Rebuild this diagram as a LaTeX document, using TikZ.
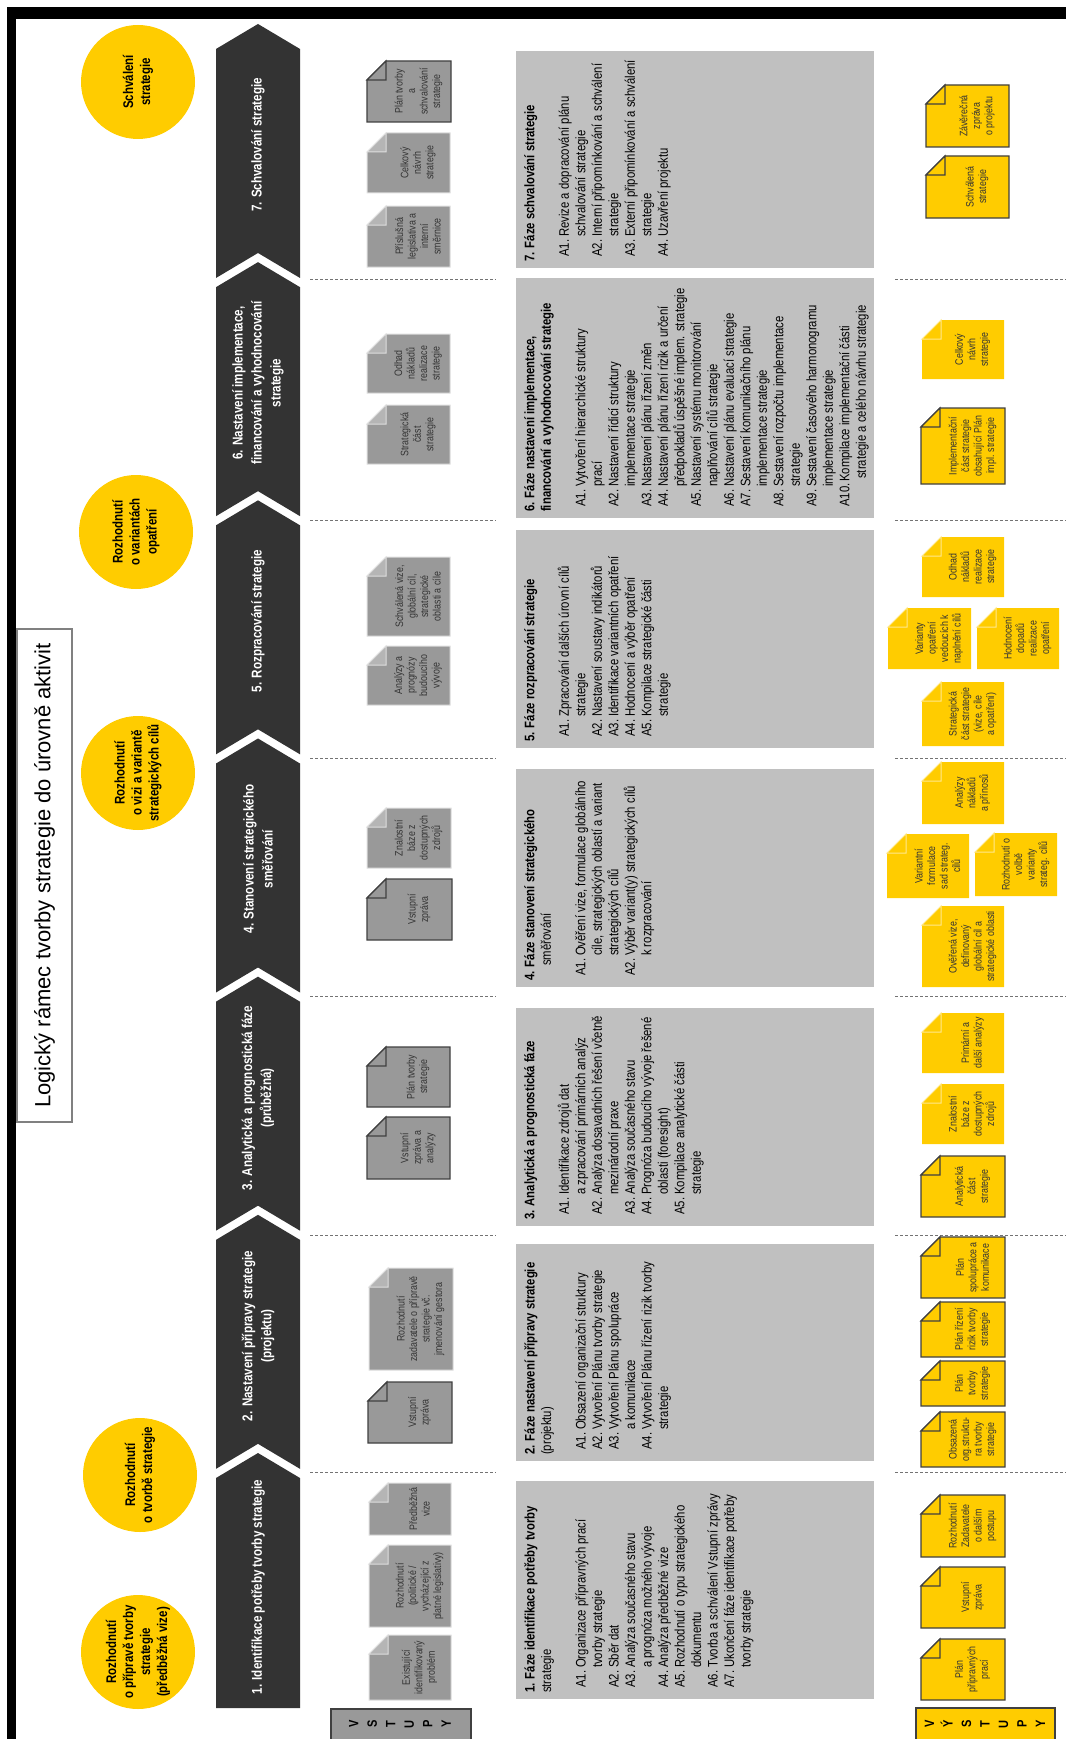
\documentclass[tikz,border=0pt]{standalone}
\usepackage{fontspec}
\setmainfont{Liberation Sans}[FakeStretch=0.82]
\newfontfamily\titlefont{Liberation Sans}
\usepackage{xcolor}
\usepackage{tikz}

\definecolor{chevgray}{HTML}{333333}
\definecolor{ryellow}{HTML}{FFCC00}
\definecolor{boxgray}{HTML}{C0C0C0}
\definecolor{docgray}{HTML}{999999}
\definecolor{foldgray}{HTML}{B5B5B5}
\definecolor{docedge}{HTML}{DEDEDE}
\definecolor{darkedge}{HTML}{404040}
\definecolor{doctextcol}{HTML}{333333}

% activity line with hanging indent
\newcommand{\akt}[2][20pt]{\hspace*{5pt}\makebox[#1][l]{#2}}
\newcommand{\dal}[1][25pt]{\hspace*{#1}}
% document with folded corner: style, name, left, top, right, bottom, text
\newcommand{\dokument}[7]{%
  \path[#1] (#3,#6) -- (#3,#4+19) -- (#3+19,#4) -- (#5,#4) -- (#5,#6) -- cycle;
  \path[#1 fold] (#3,#4+19) -- (#3+19,#4+19) -- (#3+19,#4) -- cycle;
  \node[doctext] (#2) at ({(#3+19+#5)/2},{(#4+#6)/2}) {#7};}

\begin{document}
\begin{tikzpicture}[
  x=1pt, y=-1pt,
  chevron/.style={fill=chevgray},
  phaselabel/.style={rotate=90, text=white, align=center, inner sep=0,
    font=\fontsize{14.2}{19}\selectfont\bfseries},
  decision/.style={circle, fill=ryellow, minimum size=114pt, inner sep=0,
    rotate=90, align=center, font=\fontsize{14}{17}\selectfont\bfseries},
  titlebox/.style={draw=black!50, line width=1.2pt, fill=white, rotate=90,
    inner sep=0, font=\titlefont\fontsize{22}{26}\selectfont},
  phasebox/.style={fill=boxgray, inner sep=0},
  phasetext/.style={rotate=90, anchor=north west, align=left, inner sep=0,
    font=\fontsize{13.8}{16.5}\selectfont},
  docin/.style={fill=docgray, draw=docedge, line width=1pt},
  docin fold/.style={fill=foldgray, draw=docedge, line width=1pt},
  docinb/.style={fill=docgray, draw=darkedge, line width=1.2pt},
  docinb fold/.style={fill=docgray, draw=darkedge, line width=1.2pt},
  docout/.style={fill=ryellow},
  docout fold/.style={fill=ryellow, draw=white!55!ryellow, line width=1pt},
  docoutb/.style={fill=ryellow, draw=darkedge, line width=1.2pt},
  docoutb fold/.style={fill=ryellow, draw=darkedge, line width=1.2pt},
  doctext/.style={rotate=90, align=center, inner sep=0, text=doctextcol,
    font=\fontsize{10.8}{12.5}\selectfont},
  sepline/.style={draw=black!55, dash pattern=on 3pt off 2pt, line width=0.9pt},
  listbox/.style={draw=darkedge, line width=1.2pt, inner sep=0},
  listtext/.style={rotate=90, align=center, inner sep=0,
    font=\fontsize{13.5}{18.5}\selectfont\bfseries}
]
\useasboundingbox (0,0) rectangle (1066,1739);

% frame
\fill[black] (7,7) rectangle (1066,19);
\fill[black] (7,7) rectangle (16,1739);

% title
\node[titlebox, minimum width=493pt, minimum height=55pt] (title) at (44.5,875.5)
  {Logický rámec tvorby strategie do úrovně aktivit};

% decisions
\node[decision] (dec7) at (138,82) {Schválení\\strategie};
\node[decision] (dec6) at (136,532) {Rozhodnutí\\o variantách\\opatření};
\node[decision] (dec4) at (138,773) {Rozhodnutí\\o vizi a variantě\\strategických cílů};
\node[decision] (dec2) at (140,1475) {Rozhodnutí\\o tvorbě strategie};
\node[decision] (dec1) at (138,1652) {Rozhodnutí\\o přípravě tvorby\\strategie\\(předběžná vize)};

% phase chevrons
\fill[chevron] (216,1478) -- (258,1453) -- (300,1478) -- (300,1708) -- (216,1708) -- cycle;
\foreach \k in {2,...,7}{
  \pgfmathsetmacro{\yt}{1478-(\k-1)*238.17}
  \fill[chevron] (216,\yt) -- (258,\yt-25) -- (300,\yt) -- (300,\yt+229)
    -- (258,\yt+204) -- (216,\yt+229) -- cycle;
}
\node[phaselabel] (ph1) at (258,1587) {1. Identifikace potřeby tvorby strategie};
\node[phaselabel] (ph2) at (258,1336) {2. Nastavení přípravy strategie\\(projektu)};
\node[phaselabel] (ph3) at (258,1098) {3. Analytická a prognostická fáze\\(průběžná)};
\node[phaselabel] (ph4) at (258,859) {4. Stanovení strategického\\směřování};
\node[phaselabel] (ph5) at (258,621) {5. Rozpracování strategie};
\node[phaselabel] (ph6) at (258,383) {6. Nastavení implementace,\\financování a vyhodnocování\\strategie};
\node[phaselabel] (ph7) at (258,145) {7. Schvalování strategie};

% separators
\foreach \y in {279,520,758,996,1235,1472}{
  \draw[sepline] (310,\y) -- (496,\y);
  \draw[sepline] (895,\y) -- (1066,\y);
}

% activity boxes
\node[phasebox, minimum width=358pt, minimum height=217pt] (box7) at (695,159.5) {};
\node[phasebox, minimum width=358pt, minimum height=240pt] (box6) at (695,398) {};
\node[phasebox, minimum width=358pt, minimum height=218pt] (box5) at (695,639) {};
\node[phasebox, minimum width=358pt, minimum height=218pt] (box4) at (695,878) {};
\node[phasebox, minimum width=358pt, minimum height=218pt] (box3) at (695,1117) {};
\node[phasebox, minimum width=358pt, minimum height=217pt] (box2) at (695,1352.5) {};
\node[phasebox, minimum width=358pt, minimum height=218pt] (box1) at (695,1590) {};

\node[phasetext] (txt7) at (524,262) {%
  \textbf{7. Fáze schvalování strategie}\\[18pt]
  \akt{A1.}Revize a dopracování plánu\\
  \dal schvalování strategie\\
  \akt{A2.}Interní připomínkování a schválení\\
  \dal strategie\\
  \akt{A3.}Externí připomínkování a schválení\\
  \dal strategie\\
  \akt{A4.}Uzavření projektu};
\node[phasetext] (txt6) at (524,512) {%
  \textbf{6. Fáze nastavení implementace,}\\
  \textbf{financování a vyhodnocování strategie}\\[18pt]
  \akt{A1.}Vytvoření hierarchické struktury\\
  \dal prací\\
  \akt{A2.}Nastavení řídicí struktury\\
  \dal implementace strategie\\
  \akt{A3.}Nastavení plánu řízení změn\\
  \akt{A4.}Nastavení plánu řízení rizik a určení\\
  \dal předpokladů úspěšné implem. strategie\\
  \akt{A5.}Nastavení systému monitorování\\
  \dal naplňování cílů strategie\\
  \akt{A6.}Nastavení plánu evaluací strategie\\
  \akt{A7.}Sestavení komunikačního plánu\\
  \dal implementace strategie\\
  \akt{A8.}Sestavení rozpočtu implementace\\
  \dal strategie\\
  \akt{A9.}Sestavení časového harmonogramu\\
  \dal implementace strategie\\
  \akt[25pt]{A10.}Kompilace implementační části\\
  \dal[30pt] strategie a celého návrhu strategie};
\node[phasetext] (txt5) at (524,742) {%
  \textbf{5. Fáze rozpracování strategie}\\[18pt]
  \akt{A1.}Zpracování dalších úrovní cílů\\
  \dal strategie\\
  \akt{A2.}Nastavení soustavy indikátorů\\
  \akt{A3.}Identifikace variantních opatření\\
  \akt{A4.}Hodnocení a výběr opatření\\
  \akt{A5.}Kompilace strategické části\\
  \dal strategie};
\node[phasetext] (txt4) at (524,981) {%
  \textbf{4. Fáze stanovení strategického}\\
  \hspace*{15pt}směřování\\[18pt]
  \akt{A1.}Ověření vize, formulace globálního\\
  \dal cíle, strategických oblastí a variant\\
  \dal strategických cílů\\
  \akt{A2.}Výběr variant(y) strategických cílů\\
  \dal k rozpracování};
\node[phasetext] (txt3) at (524,1220) {%
  \textbf{3. Analytická a prognostická fáze}\\[18pt]
  \akt{A1.}Identifikace zdrojů dat\\
  \dal a zpracování primárních analýz\\
  \akt{A2.}Analýza dosavadních řešení včetně\\
  \dal mezinárodní praxe\\
  \akt{A3.}Analýza současného stavu\\
  \akt{A4.}Prognóza budoucího vývoje řešené\\
  \dal oblasti (foresight)\\
  \akt{A5.}Kompilace analytické části\\
  \dal strategie};
\node[phasetext] (txt2) at (524,1455) {%
  \textbf{2. Fáze nastavení přípravy strategie}\\
  (projektu)\\[18pt]
  \akt{A1.}Obsazení organizační struktury\\
  \akt{A2.}Vytvoření Plánu tvorby strategie\\
  \akt{A3.}Vytvoření Plánu spolupráce\\
  \dal a komunikace\\
  \akt{A4.}Vytvoření Plánu řízení rizik tvorby\\
  \dal strategie};
\node[phasetext] (txt1) at (524,1693) {%
  \textbf{1. Fáze identifikace potřeby tvorby}\\
  strategie\\[18pt]
  \akt{A1.}Organizace přípravných prací\\
  \dal tvorby strategie\\
  \akt{A2.}Sběr dat\\
  \akt{A3.}Analýza současného stavu\\
  \dal a prognóza možného vývoje\\
  \akt{A4.}Analýza předběžné vize\\
  \akt{A5.}Rozhodnutí o typu strategického\\
  \dal dokumentu\\
  \akt{A6.}Tvorba a schválení Vstupní zprávy\\
  \akt{A7.}Ukončení fáze identifikace potřeby\\
  \dal tvorby strategie};

% inputs
\dokument{docinb}{in7a}{367}{61}{451}{122}{Plán tvorby\\a\\schvalování\\strategie}
\dokument{docin}{in7b}{367}{133}{450}{193}{Celkový\\návrh\\strategie}
\dokument{docin}{in7c}{367}{206}{450}{267}{Příslušná\\legislativa a\\interní\\směrnice}
\dokument{docin}{in6a}{367}{334}{450}{393}{Odhad\\nákladů\\realizace\\strategie}
\dokument{docin}{in6b}{367}{405}{450}{464}{Strategická\\část\\strategie}
\dokument{docin}{in5a}{367}{557}{450}{636}{Schválená vize,\\globální cíl,\\strategické\\oblasti a cíle}
\dokument{docin}{in5b}{367}{646}{450}{705}{Analýzy a\\prognózy\\budoucího\\vývoje}
\dokument{docin}{in4a}{367}{808}{451}{868}{Znalostní\\báze z\\dostupných\\zdrojů}
\dokument{docinb}{in4b}{367}{879}{452}{940}{Vstupní\\zpráva}
\dokument{docinb}{in3a}{367}{1047}{450}{1107}{Plán tvorby\\strategie}
\dokument{docinb}{in3b}{367}{1117}{450}{1179}{Vstupní\\zpráva a\\analýzy}
\dokument{docin}{in2a}{369}{1268}{453}{1370}{Rozhodnutí\\zadavatele o přípravě\\strategie vč.\\jmenování gestora}
\dokument{docinb}{in2b}{368}{1382}{452}{1443}{Vstupní\\zpráva}
\dokument{docin}{in1a}{369}{1483}{451}{1535}{Předběžná\\vize}
\dokument{docin}{in1b}{369}{1545}{451}{1627}{Rozhodnutí\\(politické /\\vycházející z\\platné legislativy)}
\dokument{docin}{in1c}{369}{1635}{451}{1700}{Existující\\identifikovaný\\problém}

% outputs
\dokument{docoutb}{out7a}{926}{85}{1009}{147}{Závěrečná\\zpráva\\o projektu}
\dokument{docoutb}{out7b}{926}{156}{1009}{218}{Schválená\\strategie}
\dokument{docout}{out6a}{922}{320}{1004}{379}{Celkový\\návrh\\strategie}
\dokument{docoutb}{out6b}{921}{408}{1005}{484}{Implementační\\část strategie\\obsahující Plán\\impl. strategie}
\dokument{docout}{out5a}{922}{537}{1004}{597}{Odhad\\nákladů\\realizace\\strategie}
\dokument{docout}{out5b}{888}{608}{971}{669}{Varianty\\opatření\\vedoucích k\\naplnění cílů}
\dokument{docout}{out5c}{977}{608}{1059}{669}{Hodnocení\\dopadů\\realizace\\opatření}
\dokument{docout}{out5d}{922}{682}{1004}{746}{Strategická\\část strategie\\(vize, cíle\\a opatření)}
\dokument{docout}{out4a}{922}{762}{1004}{824}{Analýzy\\nákladů\\a přínosů}
\dokument{docout}{out4b}{887}{834}{969}{898}{Variantní\\formulace\\sad strateg.\\cílů}
\dokument{docout}{out4c}{975}{833}{1057}{896}{Rozhodnutí o\\volbě\\varianty\\strateg. cílů}
\dokument{docout}{out4d}{922}{906}{1004}{987}{Ověřená vize,\\definovaný\\globální cíl a\\strategické oblasti}
\dokument{docout}{out3a}{922}{1013}{1004}{1073}{Primární a\\další analýzy}
\dokument{docout}{out3b}{922}{1084}{1004}{1144}{Znalostní\\báze z\\dostupných\\zdrojů}
\dokument{docoutb}{out3c}{921}{1156}{1005}{1217}{Analytická\\část\\strategie}
\dokument{docoutb}{out2a}{921}{1237}{1005}{1298}{Plán\\spolupráce a\\komunikace}
\dokument{docoutb}{out2b}{921}{1302}{1005}{1357}{Plán řízení\\rizik tvorby\\strategie}
\dokument{docoutb}{out2c}{921}{1361}{1005}{1406}{Plán\\tvorby\\strategie}
\dokument{docoutb}{out2d}{921}{1412}{1005}{1467}{Obsazená\\org.struktu-\\ra tvorby\\strategie}
\dokument{docoutb}{out1a}{921}{1495}{1005}{1557}{Rozhodnutí\\Zadavatele\\o dalším\\postupu}
\dokument{docoutb}{out1b}{921}{1567}{1005}{1628}{Vstupní\\zpráva}
\dokument{docoutb}{out1c}{921}{1639}{1005}{1700}{Plán\\přípravných\\prací}

% inputs / outputs labels
\node[listbox, fill=docgray, minimum width=140pt, minimum height=46pt] (inbox) at (401,1732) {};
\node[listtext] (inlbl) at (400,1724) {V\\S\\T\\U\\P\\Y};
\node[listbox, fill=ryellow, minimum width=139pt, minimum height=46pt] (outbox) at (985.5,1731) {};
\node[listtext] (outlbl) at (985,1724) {V\\Ý\\S\\T\\U\\P\\Y};
\end{tikzpicture}
\end{document}
